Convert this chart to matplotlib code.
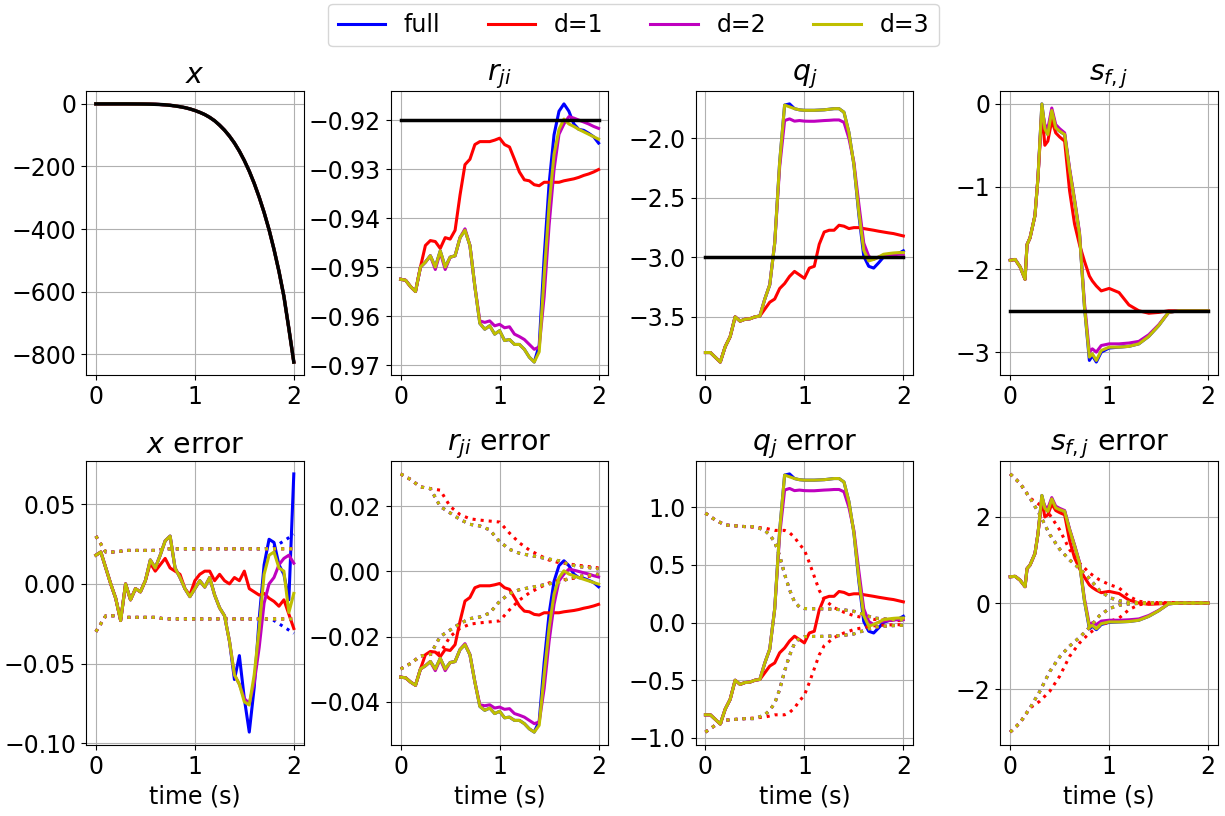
import numpy as np
import matplotlib
matplotlib.use("Agg")
import matplotlib.pyplot as plt

plt.rcParams["font.size"] = 17

methods = ["full", "d=1", "d=2", "d=3"]
colors = ["b", "r", "m", "y"]

# ---- x ----
t_x = np.linspace(0, 2, 41)
x_true = [0, 0, 0, 0, 0, 0, 0, -0.1, -0.2, -0.3,
          -0.5, -0.8, -1.3, -2, -3, -4.5, -6.5, -9, -12, -16,
          -21, -27, -34, -43, -54, -68, -84, -103, -125, -151,
          -181, -215, -254, -298, -347, -402, -465, -535, -615, -718, -825]
ex_full = [0.018, 0.020, 0.010, 0.000, -0.009, -0.023, 0.000, -0.010, -0.003, -0.005,
           0.002, 0.015, 0.010, 0.018, 0.027, 0.030, 0.010, 0.004, -0.003, -0.008,
           -0.003, 0.002, -0.002, 0.004, -0.007, -0.015, -0.020, -0.036, -0.060, -0.045,
           -0.072, -0.093, -0.065, -0.022, 0.012, 0.028, 0.026, 0.012, 0.006, -0.010, 0.069]
ex_d1 = [0.018, 0.020, 0.010, 0.000, -0.009, -0.023, 0.000, -0.010, -0.003, -0.005,
         0.002, 0.013, 0.008, 0.012, 0.016, 0.010, 0.008, 0.006, -0.003, -0.007,
         0.002, 0.006, 0.008, 0.008, 0.002, 0.006, 0.002, 0.000, 0.004, 0.002,
         0.008, -0.003, -0.005, -0.007, -0.006, -0.009, -0.011, -0.014, -0.010, -0.019, -0.028]
ex_d2 = [0.018, 0.020, 0.010, 0.000, -0.009, -0.023, 0.000, -0.010, -0.003, -0.005,
         0.002, 0.015, 0.010, 0.018, 0.027, 0.030, 0.010, 0.004, -0.003, -0.008,
         -0.003, 0.002, -0.002, 0.004, -0.007, -0.015, -0.020, -0.036, -0.057, -0.063,
         -0.072, -0.075, -0.062, -0.040, -0.012, 0.000, 0.004, 0.012, 0.016, 0.018, 0.013]
ex_d3 = [0.018, 0.020, 0.010, 0.000, -0.009, -0.023, 0.000, -0.010, -0.003, -0.005,
         0.002, 0.015, 0.010, 0.018, 0.027, 0.030, 0.010, 0.004, -0.003, -0.008,
         -0.003, 0.002, -0.002, 0.004, -0.007, -0.015, -0.020, -0.036, -0.057, -0.063,
         -0.074, -0.076, -0.057, -0.028, 0.006, 0.018, 0.020, 0.010, 0.008, -0.018, -0.006]
tb_x = np.linspace(0, 2, 21)
sx_full = [0.030, 0.020, 0.020, 0.021, 0.021, 0.021, 0.021, 0.022, 0.022, 0.022, 0.022,
           0.022, 0.022, 0.022, 0.022, 0.022, 0.022, 0.022, 0.023, 0.027, 0.031]
sx_d1 = [0.030, 0.020, 0.020, 0.021, 0.021, 0.021, 0.021, 0.022, 0.022, 0.022, 0.022,
         0.022, 0.022, 0.022, 0.022, 0.022, 0.022, 0.022, 0.022, 0.022, 0.022]
sx_d2 = sx_d1
sx_d3 = sx_d1

# ---- r_ji ----
r_true = -0.92
t_r = np.linspace(0, 2, 41)
er_full = [-0.0325, -0.0327, -0.0340, -0.0350, -0.0300, -0.0290, -0.0277, -0.0300, -0.0267, -0.0300,
           -0.0280, -0.0277, -0.0240, -0.0225, -0.0256, -0.0340, -0.0415, -0.0427, -0.0420, -0.0437,
           -0.0430, -0.0450, -0.0448, -0.0458, -0.0458, -0.0468, -0.0484, -0.0494, -0.0460, -0.0280,
           -0.0130, -0.0030, 0.0018, 0.0033, 0.0018, -0.0008, -0.0019, -0.0021, -0.0027, -0.0034, -0.0047]
er_d1 = [-0.0325, -0.0327, -0.0340, -0.0350, -0.0300, -0.0256, -0.0246, -0.0248, -0.0262, -0.0240,
         -0.0243, -0.0225, -0.0153, -0.0091, -0.0080, -0.0050, -0.0044, -0.0044, -0.0044, -0.0041,
         -0.0037, -0.0050, -0.0055, -0.0080, -0.0106, -0.0122, -0.0124, -0.0132, -0.0134, -0.0127,
         -0.0127, -0.0127, -0.0127, -0.0124, -0.0122, -0.0120, -0.0117, -0.0113, -0.0110, -0.0106, -0.0101]
er_d2 = [-0.0325, -0.0327, -0.0340, -0.0350, -0.0300, -0.0290, -0.0277, -0.0305, -0.0270, -0.0305,
         -0.0280, -0.0277, -0.0240, -0.0222, -0.0256, -0.0340, -0.0410, -0.0413, -0.0410, -0.0420,
         -0.0417, -0.0424, -0.0422, -0.0437, -0.0442, -0.0448, -0.0458, -0.0468, -0.0463, -0.0360,
         -0.0215, -0.0101, -0.0029, -0.0008, 0.0007, 0.0004, 0.0000, -0.0004, -0.0008, -0.0013, -0.0017]
er_d3 = [-0.0325, -0.0327, -0.0340, -0.0350, -0.0300, -0.0290, -0.0277, -0.0300, -0.0267, -0.0300,
         -0.0280, -0.0277, -0.0240, -0.0225, -0.0256, -0.0340, -0.0415, -0.0427, -0.0420, -0.0437,
         -0.0430, -0.0450, -0.0448, -0.0458, -0.0458, -0.0468, -0.0484, -0.0494, -0.0473, -0.0318,
         -0.0174, -0.0070, -0.0019, 0.0002, -0.0008, -0.0013, -0.0019, -0.0024, -0.0029, -0.0034, -0.0039]
tb_r = np.linspace(0, 2, 21)
sr_full = [0.0300, 0.0283, 0.0260, 0.0255, 0.0200, 0.0180, 0.0160, 0.0145, 0.0140, 0.0128, 0.0092,
           0.0068, 0.0056, 0.0050, 0.0044, 0.0038, 0.0033, 0.0022, 0.0015, 0.0012, 0.0008]
sr_d1 = [0.0300, 0.0283, 0.0260, 0.0255, 0.0250, 0.0200, 0.0175, 0.0162, 0.0158, 0.0155, 0.0152,
         0.0118, 0.0088, 0.0066, 0.0050, 0.0035, 0.0027, 0.0023, 0.0019, 0.0015, 0.0011]
sr_d2 = sr_full
sr_d3 = sr_full

# ---- q_j ----
q_true = -3.0
t_q = np.linspace(0, 2, 41)
eq_full = [-0.800, -0.800, -0.840, -0.880, -0.750, -0.666, -0.500, -0.536, -0.520, -0.516,
           -0.500, -0.493, -0.350, -0.230, 0.120, 0.800, 1.280, 1.290, 1.250, 1.240,
           1.236, 1.236, 1.236, 1.238, 1.240, 1.245, 1.250, 1.250, 1.220, 1.050,
           0.780, 0.360, 0.010, -0.075, -0.090, -0.046, 0.003, 0.017, 0.026, 0.032, 0.055]
eq_d1 = [-0.800, -0.800, -0.840, -0.880, -0.750, -0.666, -0.500, -0.536, -0.520, -0.516,
         -0.500, -0.493, -0.435, -0.377, -0.350, -0.262, -0.220, -0.160, -0.118, -0.147,
         -0.176, -0.090, -0.075, 0.110, 0.213, 0.228, 0.228, 0.270, 0.262, 0.242,
         0.250, 0.250, 0.242, 0.235, 0.228, 0.220, 0.213, 0.206, 0.200, 0.190, 0.180]
eq_d2 = [-0.800, -0.800, -0.840, -0.880, -0.750, -0.666, -0.500, -0.536, -0.520, -0.516,
         -0.500, -0.493, -0.350, -0.230, 0.120, 0.760, 1.150, 1.164, 1.145, 1.150,
         1.145, 1.144, 1.144, 1.147, 1.150, 1.152, 1.155, 1.155, 1.135, 1.000,
         0.800, 0.450, 0.120, 0.010, -0.017, 0.003, 0.012, 0.017, 0.022, 0.026, 0.026]
eq_d3 = [-0.800, -0.800, -0.840, -0.880, -0.750, -0.666, -0.500, -0.536, -0.520, -0.516,
         -0.500, -0.493, -0.350, -0.230, 0.120, 0.800, 1.280, 1.265, 1.250, 1.240,
         1.236, 1.236, 1.236, 1.238, 1.240, 1.245, 1.250, 1.250, 1.220, 1.050,
         0.780, 0.380, 0.060, -0.030, -0.017, 0.003, 0.026, 0.032, 0.037, 0.040, 0.040]
tb_q = [0, 0.1, 0.2, 0.3, 0.4, 0.5, 0.6, 0.65, 0.7, 0.75, 0.8, 0.85, 0.9, 0.95,
        1.0, 1.05, 1.1, 1.15, 1.2, 1.3, 1.4, 1.5, 1.6, 1.7, 1.8, 1.9, 2.0]
sq_full = [0.95, 0.89, 0.847, 0.84, 0.833, 0.833, 0.80, 0.76, 0.70, 0.58, 0.42, 0.285, 0.18, 0.135,
           0.122, 0.121, 0.12, 0.12, 0.119, 0.116, 0.11, 0.098, 0.07, 0.04, 0.032, 0.026, 0.023]
sq_d1 = [0.95, 0.89, 0.847, 0.84, 0.833, 0.827, 0.82, 0.81, 0.80, 0.80, 0.80, 0.78, 0.74, 0.68,
         0.63, 0.52, 0.40, 0.28, 0.20, 0.13, 0.09, 0.06, 0.042, 0.028, 0.022, 0.019, 0.017]
sq_d2 = sq_full
sq_d3 = sq_full

# ---- s_f,j ----
s_true = -2.5
t_s = [0, 0.05, 0.1, 0.15, 0.17, 0.2, 0.25, 0.28, 0.32, 0.35, 0.38, 0.42, 0.46, 0.5, 0.55,
       0.6, 0.65, 0.7, 0.75, 0.8, 0.83, 0.87, 0.92, 1.0, 1.1, 1.2, 1.3, 1.4, 1.5, 1.6,
       1.7, 1.8, 1.9, 2.0]
es_full = [0.61, 0.62, 0.53, 0.38, 0.80, 0.88, 1.15, 1.60, 2.50, 2.20, 2.13, 2.42, 2.21, 2.17, 2.13,
           1.70, 1.33, 0.93, 0.05, -0.60, -0.54, -0.62, -0.50, -0.45, -0.44, -0.43, -0.40, -0.31, -0.18, -0.02,
           0.0, 0.0, 0.0, 0.0]
es_d1 = [0.61, 0.62, 0.53, 0.38, 0.80, 0.88, 1.15, 1.60, 2.40, 2.00, 2.05, 2.30, 2.15, 2.10, 2.05,
         1.45, 1.05, 0.80, 0.60, 0.42, 0.36, 0.30, 0.24, 0.27, 0.22, 0.07, 0.0, -0.03, -0.02, 0.0,
         0.0, 0.0, 0.0, 0.0]
es_d2 = [0.61, 0.62, 0.53, 0.38, 0.80, 0.88, 1.15, 1.60, 2.45, 2.25, 2.20, 2.45, 2.25, 2.20, 2.15,
         1.72, 1.35, 0.95, 0.10, -0.50, -0.46, -0.50, -0.42, -0.40, -0.40, -0.39, -0.37, -0.29, -0.17, -0.02,
         0.0, 0.0, 0.0, 0.0]
es_d3 = [0.61, 0.62, 0.53, 0.38, 0.80, 0.88, 1.15, 1.60, 2.50, 2.20, 2.13, 2.42, 2.21, 2.17, 2.13,
         1.70, 1.33, 0.93, 0.05, -0.56, -0.52, -0.60, -0.48, -0.44, -0.44, -0.43, -0.40, -0.31, -0.18, -0.02,
         0.0, 0.0, 0.0, 0.0]
tb_s = np.linspace(0, 2, 21)
ss_full = [3.0, 2.78, 2.44, 2.05, 1.59, 1.25, 1.0, 0.8, 0.57, 0.3, 0.13,
           0.05, 0.02, 0.01, 0.006, 0.005, 0.004, 0.003, 0.003, 0.002, 0.002]
ss_d1 = [3.0, 2.78, 2.44, 2.28, 2.05, 1.7, 1.24, 0.93, 0.7, 0.54, 0.43,
         0.35, 0.155, 0.04, 0.015, 0.01, 0.008, 0.006, 0.005, 0.004, 0.003]
ss_d2 = ss_full
ss_d3 = ss_full

panels = [
    ("$x$", t_x, np.array(x_true), [ex_full, ex_d1, ex_d2, ex_d3], tb_x, [sx_full, sx_d1, sx_d2, sx_d3]),
    ("$r_{ji}$", t_r, np.full(len(t_r), r_true), [er_full, er_d1, er_d2, er_d3], tb_r, [sr_full, sr_d1, sr_d2, sr_d3]),
    ("$q_j$", t_q, np.full(len(t_q), q_true), [eq_full, eq_d1, eq_d2, eq_d3], tb_q, [sq_full, sq_d1, sq_d2, sq_d3]),
    ("$s_{f,j}$", t_s, np.full(len(t_s), s_true), [es_full, es_d1, es_d2, es_d3], tb_s, [ss_full, ss_d1, ss_d2, ss_d3]),
]

fig, axes = plt.subplots(2, 4, figsize=(12.25, 8.16), dpi=100)
fig.subplots_adjust(left=0.0702, right=0.9943, bottom=0.087, top=0.8885, wspace=0.40, hspace=0.303)

for col, (name, t, truth, errs, tb, sigs) in enumerate(panels):
    top = axes[0, col]
    bot = axes[1, col]
    # estimates = truth + error, truth drawn on top in black
    for err, c, lab in zip(errs, colors, methods):
        top.plot(t, truth + np.array(err), color=c, lw=2.2, label=lab)
    top.plot(t, truth, color="k", lw=2.5)
    top.set_title(name)
    top.grid(True)

    for err, sig, c in zip(errs, sigs, colors):
        bot.plot(t, err, color=c, lw=2.2)
        bot.plot(tb, sig, ":", color=c, lw=2.2)
        bot.plot(tb, -np.array(sig), ":", color=c, lw=2.2)
    bot.set_title(name + " error")
    bot.set_xlabel("time (s)")
    bot.grid(True)

handles, labels = axes[0, 0].get_legend_handles_labels()
fig.legend(handles, labels, loc="upper center", ncol=4, bbox_to_anchor=(0.517, 1.0),
           borderaxespad=0.15)

fig.savefig("out.png", dpi=100)
